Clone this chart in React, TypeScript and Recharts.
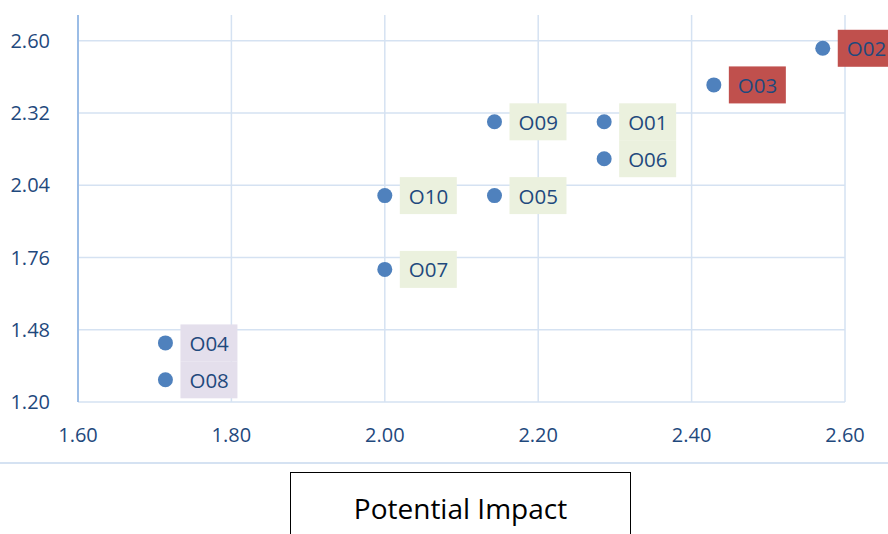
import { ScatterChart, Scatter, XAxis, YAxis, CartesianGrid } from 'recharts';

const ids = ['O01', 'O02', 'O03', 'O04', 'O05', 'O06', 'O07', 'O08', 'O09', 'O10'];
const impact = [2.286, 2.571, 2.429, 1.714, 2.143, 2.286, 2.0, 1.714, 2.143, 2.0];
const likelihood = [2.286, 2.571, 2.429, 1.429, 2.0, 2.143, 1.714, 1.286, 2.286, 2.0];
const zone = ['mid', 'high', 'high', 'low', 'mid', 'mid', 'mid', 'low', 'mid', 'mid'];

const xTicks = [1.6, 1.8, 2.0, 2.2, 2.4, 2.6];
const yTicks = [1.2, 1.48, 1.76, 2.04, 2.32, 2.6];

const zoneFill: Record<string, string> = {
  high: '#C0504D',
  mid: '#EBF1DE',
  low: '#E4DFEC',
};

const points = ids.map((id, i) => ({
  id,
  x: impact[i],
  y: likelihood[i],
  zone: zone[i],
}));

const FONT = '"Open Sans", "Liberation Sans", sans-serif';
const GRID = '#D5E2F2';
const TEXT = '#1F497D';

// dot plus a tinted tag to its right
function RiskPoint(props: any) {
  const { cx, cy, payload } = props;
  if (cx == null || cy == null) return null;
  const left = cx + 15;
  return (
    <g>
      <rect x={left} y={cy - 18.5} width={57} height={37} fill={zoneFill[payload.zone]} />
      <text
        x={left + 9}
        y={cy}
        dominantBaseline="central"
        fill={TEXT}
        fontSize={20.5}
        fontFamily={FONT}
      >
        {payload.id}
      </text>
      <circle cx={cx} cy={cy} r={7.5} fill="#4F81BD" />
    </g>
  );
}

export default function App() {
  return (
    <div style={{ position: 'absolute', left: 0, top: 0, width: 888, height: 534, overflow: 'hidden', background: '#fff' }}>
      <ScatterChart
        width={888}
        height={534}
        margin={{ top: 15, right: 43, bottom: 82, left: 0 }}
        style={{ fontFamily: FONT }}
      >
        <CartesianGrid stroke={GRID} strokeWidth={1.5} horizontalValues={yTicks} verticalValues={xTicks} />
        <XAxis
          type="number"
          dataKey="x"
          domain={[1.6, 2.6]}
          ticks={xTicks}
          tickFormatter={(v: number) => v.toFixed(2)}
          axisLine={false}
          tickLine={false}
          tickSize={0}
          tickMargin={26}
          height={50}
          tick={{ fill: TEXT, fontSize: 20, fontFamily: FONT }}
          interval={0}
        />
        <YAxis
          type="number"
          dataKey="y"
          domain={[1.2, 2.7]}
          ticks={yTicks}
          tickFormatter={(v: number) => v.toFixed(2)}
          axisLine={{ stroke: '#9CBDE6', strokeWidth: 2 }}
          tickLine={false}
          tickSize={0}
          tickMargin={28}
          width={78}
          tick={{ fill: TEXT, fontSize: 20, fontFamily: FONT }}
          interval={0}
        />
        <Scatter data={points} shape={RiskPoint} isAnimationActive={false} />
      </ScatterChart>
      <div style={{ position: 'absolute', left: 0, top: 462, width: 888, height: 2, background: GRID }} />
      <div
        style={{
          position: 'absolute',
          left: 290,
          top: 472,
          width: 341,
          height: 80,
          border: '1px solid #000',
          boxSizing: 'border-box',
          fontFamily: FONT,
          fontSize: 28,
          color: '#000',
          textAlign: 'center',
          paddingTop: 16,
          lineHeight: '38px',
        }}
      >
        Potential Impact
      </div>
    </div>
  );
}
